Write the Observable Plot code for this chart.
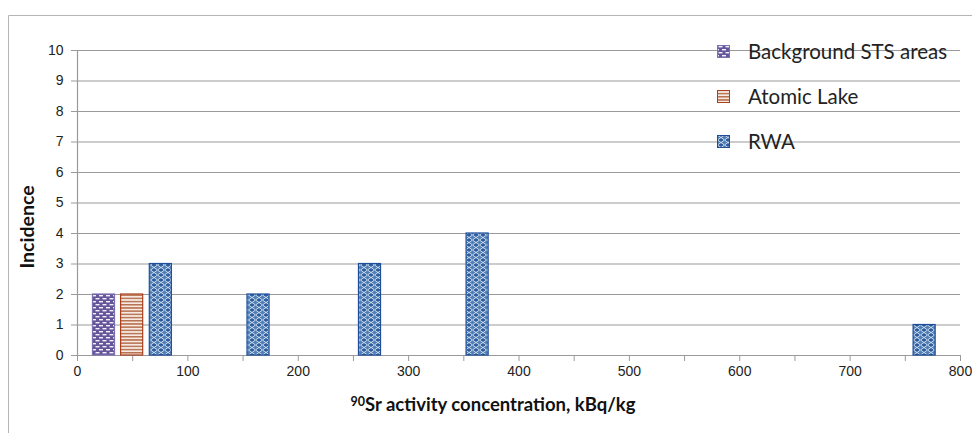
<!DOCTYPE html>
<html>
<head>
<meta charset="utf-8">
<script src="https://cdn.jsdelivr.net/npm/d3@7"></script>
<script src="https://cdn.jsdelivr.net/npm/@observablehq/plot@0.6"></script>
<style>
  html, body { margin: 0; padding: 0; background: #fff; }
  #chart { width: 972px; height: 433px; overflow: hidden; }
</style>
</head>
<body>
<div id="chart"></div>
<script>
// ---- data ----
const seriesNames = ["Background STS areas", "Atomic Lake", "RWA"];
const backgroundX = [24];
const backgroundY = [2];
const lakeX = [49.5];
const lakeY = [2];
const rwaX = [75.5, 164, 265, 362.5, 767.5];
const rwaY = [3, 2, 3, 4, 1];
const xTicks = [0, 50, 100, 150, 200, 250, 300, 350, 400, 450, 500, 550, 600, 650, 700, 750, 800];
const yTicks = [0, 1, 2, 3, 4, 5, 6, 7, 8, 9, 10];
const xTitleSup = "90";
const xTitleRest = "Sr activity concentration, kBq/kg";
const yTitle = "Incidence";

const toRows = (xs, ys, s) => xs.map((x, i) => ({x, y: ys[i], series: s}));
const bgRows = toRows(backgroundX, backgroundY, seriesNames[0]);
const lakeRows = toRows(lakeX, lakeY, seriesNames[1]);
const rwaRows = toRows(rwaX, rwaY, seriesNames[2]);

const half = 10;
const styles = {
  [seriesNames[0]]: {fill: "url(#patBg)", stroke: "#7d70b0"},
  [seriesNames[1]]: {fill: "url(#patLake)", stroke: "#a8401e"},
  [seriesNames[2]]: {fill: "url(#patRwa)", stroke: "#1f4d9a"}
};

const barMark = (rows, s) => Plot.rectY(rows, {
  x1: d => d.x - half, x2: d => d.x + half, y1: 0, y2: "y",
  fill: styles[s].fill, stroke: styles[s].stroke, strokeWidth: 1.2
});

const tickFont = "'Liberation Sans', Arial, sans-serif";
const plot = Plot.plot({
  width: 972,
  height: 433,
  marginLeft: 77,
  marginRight: 12,
  marginTop: 50,
  marginBottom: 78,
  style: {fontFamily: tickFont, fontSize: "14px", color: "#222", background: "#fff"},
  x: {domain: [0, 800]},
  y: {domain: [0, 10]},
  marks: [
    Plot.gridY(yTicks, {stroke: "#9a9a9a", strokeOpacity: 1, strokeWidth: 1.2}),
    Plot.axisY(yTicks, {tickSize: 6, tickPadding: 8, stroke: "#9a9a9a", fontSize: 14, fontFamily: tickFont, label: null}),
    Plot.axisX(xTicks, {tickSize: 6, tickPadding: 5, stroke: "#9a9a9a", fontSize: 14, fontFamily: tickFont, label: null,
      tickFormat: d => d % 100 === 0 ? d : ""}),
    Plot.ruleX([0], {stroke: "#9a9a9a", strokeWidth: 1.2}),
    barMark(bgRows, seriesNames[0]),
    barMark(lakeRows, seriesNames[1]),
    barMark(rwaRows, seriesNames[2])
  ]
});

document.getElementById("chart").appendChild(plot);
const svg = d3.select(plot);

// patterns
const defs = svg.insert("defs", ":first-child");
const pBg = defs.append("pattern").attr("id", "patBg").attr("patternUnits", "userSpaceOnUse")
  .attr("width", 7).attr("height", 6);
pBg.append("rect").attr("width", 7).attr("height", 6).attr("fill", "#65569b");
pBg.append("rect").attr("x", 1).attr("y", 1).attr("width", 4).attr("height", 1.4).attr("fill", "#f4f0fa");
pBg.append("rect").attr("x", 4.5).attr("y", 4).attr("width", 4).attr("height", 1.4).attr("fill", "#f4f0fa");
pBg.append("rect").attr("x", -2.5).attr("y", 4).attr("width", 4).attr("height", 1.4).attr("fill", "#f4f0fa");

const pLake = defs.append("pattern").attr("id", "patLake").attr("patternUnits", "userSpaceOnUse")
  .attr("width", 6).attr("height", 3.2);
pLake.append("rect").attr("width", 6).attr("height", 3.2).attr("fill", "#f6ebe4");
pLake.append("rect").attr("y", 0).attr("width", 6).attr("height", 1.5).attr("fill", "#b8704f");

const pRwa = defs.append("pattern").attr("id", "patRwa").attr("patternUnits", "userSpaceOnUse")
  .attr("width", 7).attr("height", 5);
pRwa.append("rect").attr("width", 7).attr("height", 5).attr("fill", "#2d5d9f");
pRwa.append("path").attr("d", "M0,2.5 L3.5,0 L7,2.5 L3.5,5 Z").attr("fill", "#4f7fb5")
  .attr("stroke", "#dce8f2").attr("stroke-width", 0.9);

// outer chart border
svg.append("path").attr("d", "M8.5,433 L8.5,15.5 L972,15.5").attr("fill", "none")
  .attr("stroke", "#b5b5b5").attr("stroke-width", 1);

// titles
svg.append("text").attr("transform", "translate(34,227) rotate(-90)").attr("text-anchor", "middle")
  .attr("font-family", "Lato, 'Open Sans', sans-serif").attr("font-weight", "bold").attr("font-size", 19.5)
  .attr("fill", "#111").text(yTitle);
const xt = svg.append("text").attr("x", 493).attr("y", 411).attr("text-anchor", "middle")
  .attr("font-family", "Lato, 'Open Sans', sans-serif").attr("font-weight", "bold").attr("font-size", 18.5)
  .attr("fill", "#111");
xt.append("tspan").attr("font-size", 12.5).attr("dy", -5).text(xTitleSup);
xt.append("tspan").attr("dy", 5).text(xTitleRest);

// legend
const legendY = [52, 97, 142];
const legendFills = ["url(#patBg)", "url(#patLake)", "url(#patRwa)"];
const legendStrokes = ["#7d70b0", "#a8401e", "#1f4d9a"];
seriesNames.forEach((s, i) => {
  svg.append("rect").attr("x", 717.5).attr("y", legendY[i] - 6.5).attr("width", 12).attr("height", 12)
    .attr("fill", legendFills[i]).attr("stroke", legendStrokes[i]).attr("stroke-width", 1);
  svg.append("text").attr("x", 748).attr("y", legendY[i] + 7).attr("text-anchor", "start")
    .attr("font-family", "Lato, 'Open Sans', sans-serif").attr("font-size", 20.5)
    .attr("fill", "#222").text(s);
});
</script>
</body>
</html>
